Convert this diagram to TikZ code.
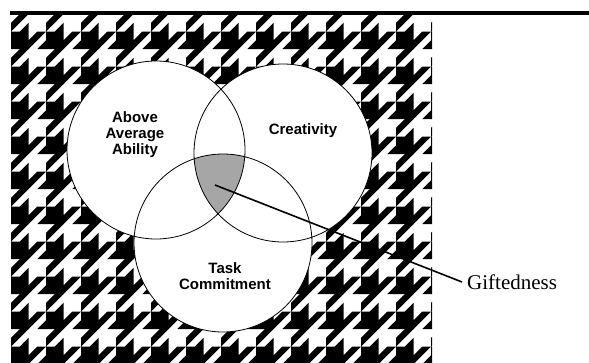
\documentclass[tikz,border=0pt]{standalone}
\usepackage{fontspec}
\setmainfont{Liberation Serif}
\newfontfamily\labelfont{Liberation Sans}
\usetikzlibrary{calc}

\begin{document}
\begin{tikzpicture}[x=1pt,y=-1pt,
	ring/.style={draw=black, line width=0.8pt},
	lbl/.style={font=\labelfont\bfseries\fontsize{15}{16}\selectfont, align=center, inner sep=0pt},
	tooth/.style={fill=black}]
	\useasboundingbox (0,0) rectangle (589,362);
	
	% Houndstooth backdrop
	\begin{scope}
		\clip (11,13) rectangle (432,362);
		\foreach \i in {-1,...,12} {
			\foreach \j in {0,...,11} {
				\begin{scope}[shift={(11+35*\i,14+35*\j)}, x=8.75pt, y=8.75pt]
					\fill[tooth] (0,0) rectangle (2,2)
					(2,0) -- (4,2) -- (3,2) -- (2,1) -- cycle
					(3,0) -- (4,0) -- (4,1) -- cycle
					(1,2) -- (2,2) -- (2,3) -- cycle
					(0,2) -- (2,4) -- (1,4) -- (0,3) -- cycle;
				\end{scope}
			}
		}
	\end{scope}
	
	% Top rule
	\draw[line width=3.5pt] (10,13) -- (589,13);
	
	% Venn circles
	\coordinate (cAbil) at (156,150);
	\coordinate (cCreat) at (283,153);
	\coordinate (cTask) at (223,243);
	\fill[white] (cAbil) circle (89pt) (cCreat) circle (89pt) (cTask) circle (89pt);
	\begin{scope}
		\clip (cAbil) circle (89pt);
		\clip (cCreat) circle (89pt);
		\fill[black!35] (cTask) circle (89pt);
	\end{scope}
	\draw[ring] (cAbil) circle (89pt) (cCreat) circle (89pt) (cTask) circle (89pt);
	
	% Labels
	\node[lbl] (abil) at (135,135) {Above\\Average\\Ability};
	\node[lbl] (creat) at (303,131) {Creativity};
	\node[lbl] (task) at (225,276) {Task\\Commitment};
	
	% Pointer
	\coordinate (core) at (215,185);
	\node[font=\fontsize{21}{24}\selectfont, anchor=west, inner xsep=5pt] (gift) at (462,282) {Giftedness};
	\draw[line width=1.6pt] (core) -- (gift.west);
\end{tikzpicture}
\end{document}
